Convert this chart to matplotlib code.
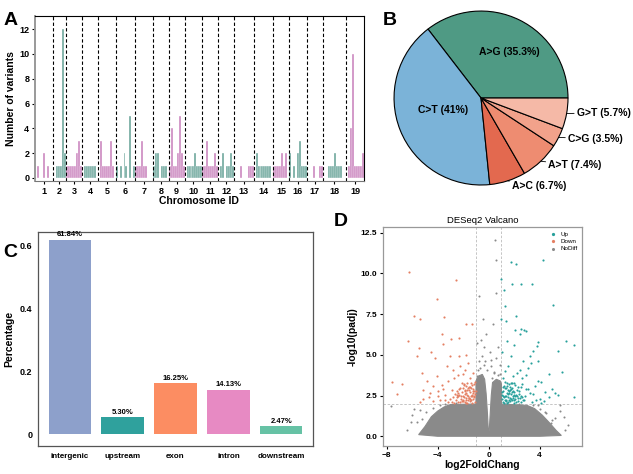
import numpy as np
import matplotlib
matplotlib.use("Agg")
import matplotlib.pyplot as plt

plt.rcParams["font.family"] = ["Liberation Sans", "DejaVu Sans"]
plt.rcParams["font.weight"] = "bold"
plt.rcParams["axes.labelweight"] = "bold"

# ── A. variants per chromosome bin ─────────────
chrom_ids = [str(i) for i in range(1, 20)]
chrom_counts = [
    [0, 1, 0, 0, 2, 0, 1, 0, 0],
    [0, 0, 1, 1, 1, 12, 2],
    [1, 1, 1, 1, 1, 2, 3, 1],
    [0, 1, 1, 1, 1, 1, 1, 0],
    [0, 3, 1, 1, 1, 1, 3, 1, 0],
    [1, 0, 1, 0, 2, 1, 0, 5, 0, 1],
    [1, 1, 1, 3, 1, 1, 0, 0, 0],
    [1, 2, 2, 0, 1, 1, 1, 0],
    [1, 4, 1, 1, 2, 5, 2, 1],
    [0, 1, 1, 1, 1, 2, 1, 1, 1],
    [1, 1, 3, 1, 1, 1, 2, 1],
    [0, 1, 2, 0, 1, 1, 2, 1],
    [0, 0, 0, 1, 0, 0, 0, 1, 1, 1],
    [0, 2, 1, 1, 1, 1, 1, 1, 1, 0],
    [1, 1, 1, 1, 2, 1, 2, 0],
    [2, 0, 1, 0, 2, 3, 1, 1, 1],
    [0, 0, 0, 1, 0, 0, 1, 1],
    [0, 0, 0, 1, 1, 1, 2, 1, 1, 1, 0, 0],
    [0, 1, 4, 10, 1, 1, 1, 1, 2],
]

# ── B. mutation types ──────────────────────────
mut_labels = ["A>G", "C>T", "A>C", "A>T", "C>G", "G>T"]
mut_pct = [35.3, 41, 6.7, 7.4, 3.5, 5.7]
mut_colors = ["#4f9a84", "#7bb3d8", "#e3694f", "#ee8c71", "#f2a28b", "#f5b9a7"]

# ── C. genomic regions ─────────────────────────
regions = ["intergenic", "upstream", "exon", "intron", "downstream"]
region_frac = [0.6184, 0.0530, 0.1625, 0.1413, 0.0247]
region_colors = ["#8da0cb", "#2fa19d", "#fc8d62", "#e78ac3", "#66c2a5"]

# ── D. volcano ─────────────────────────────────
up_x = [1.78, 2.12, 4.26, 1.0, 1.84, 2.57, 3.38, 1.18, 5.04, 1.26, 1.0, 1.39, 2.17,
        2.57, 2.75, 2.04, 2.44, 2.91, 6.09, 6.66, 1.47, 2.0, 3.87, 3.79, 5.46, 1.08,
        1.73, 3.22, 3.48, 2.7, 3.9, 3.35, 4.73, 5.77, 2.44, 2.96, 3.87, 4.13, 5.0,
        5.2, 5.47, 6.66, 4.45, 4.71, 3.61, 3.22, 2.57, 1.55, 1.3, 2.25, 3.05, 4.0,
        3.4, 2.8, 4.3, 1.9, 3.1, 3.5, 3.75, 4.1, 2.6, 1.15]
up_y = [10.7, 10.6, 10.8, 9.65, 9.37, 9.37, 9.37, 9.0, 8.06, 8.02, 7.2, 7.06, 7.4,
        6.58, 6.5, 6.5, 6.3, 6.46, 5.87, 5.58, 5.83, 5.62, 5.77, 5.56, 5.21, 5.15,
        4.9, 4.95, 5.21, 4.6, 4.64, 4.5, 3.84, 3.93, 4.09, 3.78, 3.37, 3.31, 2.9,
        2.66, 2.52, 2.39, 2.72, 2.41, 3.07, 2.66, 2.45, 4.3, 4.0, 3.9, 4.2, 2.3,
        2.1, 2.2, 2.15, 3.7, 2.9, 2.6, 2.25, 2.05, 3.55, 3.6]
up_dense_x = [1.05, 1.1, 1.15, 1.2, 1.25, 1.3, 1.35, 1.4, 1.45, 1.5, 1.55, 1.6, 1.65,
              1.7, 1.75, 1.8, 1.85, 1.9, 1.95, 2.0, 2.05, 2.1, 2.2, 2.3, 2.4, 2.5,
              2.6, 2.7, 1.08, 1.18, 1.28, 1.38, 1.48, 1.58, 1.68, 1.78, 1.88, 1.98,
              2.08, 2.18, 2.28, 2.38, 1.12, 1.32, 1.52, 1.72, 1.92, 2.12, 2.32, 2.52,
              1.22, 1.42, 1.62, 1.82, 2.02, 2.85, 2.95, 2.65, 1.03, 1.14, 1.26,
              1.37, 1.46, 1.57, 1.66, 1.77, 1.86, 1.97, 2.24, 2.45]
up_dense_y = [2.3, 2.8, 2.1, 3.1, 2.5, 2.95, 2.2, 2.65, 3.3, 2.4, 2.1, 2.75, 3.05,
              2.35, 2.9, 2.2, 3.25, 2.5, 2.05, 2.7, 3.15, 2.3, 2.85, 2.15, 2.6, 3.0,
              2.4, 2.2, 2.55, 2.05, 3.35, 2.45, 2.85, 3.2, 2.15, 2.6, 2.35, 3.3,
              2.45, 2.1, 3.0, 2.75, 3.0, 2.15, 2.6, 3.3, 2.8, 2.55, 2.35, 2.1,
              2.4, 3.1, 2.25, 2.95, 2.2, 2.5, 2.9, 3.2, 2.7, 2.45, 2.25, 2.95,
              2.05, 2.65, 2.85, 2.3, 2.7, 2.55, 2.5, 2.35]

down_x = [-6.22, -2.57, -4.09, -5.83, -5.39, -3.51, -1.79, -1.35, -6.3, -3.69, -2.96,
          -2.31, -5.44, -5.65, -4.52, -4.2, -3.6, -3.03, -2.31, -1.82, -7.61, -6.83,
          -7.22, -5.25, -4.86, -5.12, -4.6, -5.12, -5.38, -4.34, -4.09, -3.69, -3.43,
          -3.95, -3.17, -2.78, -2.91, -2.52, -2.26, -1.6, -1.2, -2.0, -3.3, -4.4,
          -3.8, -2.7, -1.5, -3.0, -3.2, -3.55, -4.0, -4.7, -2.45, -1.9, -3.45]
down_y = [10.06, 9.57, 8.43, 7.4, 7.22, 7.32, 6.91, 6.89, 5.83, 6.28, 5.97, 6.03,
          5.42, 4.9, 5.15, 4.8, 5.66, 4.95, 4.95, 5.01, 3.35, 3.23, 2.62, 3.89, 3.37,
          2.86, 2.66, 2.29, 2.11, 2.15, 3.68, 3.17, 2.56, 2.45, 3.37, 4.09, 2.86,
          2.56, 4.29, 4.5, 3.9, 3.8, 4.3, 3.1, 2.2, 3.6, 3.55, 2.3, 2.1, 2.9, 2.75,
          2.4, 3.75, 4.1, 2.2]
down_dense_x = [-1.05, -1.1, -1.15, -1.2, -1.25, -1.3, -1.35, -1.4, -1.45, -1.5, -1.55,
                -1.6, -1.65, -1.7, -1.75, -1.8, -1.85, -1.9, -1.95, -2.0, -2.05, -2.1,
                -2.2, -2.3, -2.4, -2.5, -2.6, -2.7, -1.08, -1.18, -1.28, -1.38, -1.48,
                -1.58, -1.68, -1.78, -1.88, -1.98, -2.08, -2.18, -2.28, -2.38, -1.12,
                -1.32, -1.52, -1.72, -1.92, -2.12, -2.32, -2.52, -1.22, -1.42, -1.62,
                -1.82, -2.02, -2.8, -2.9, -1.03, -1.14, -1.27, -1.36, -1.47, -1.56,
                -1.67, -1.76, -1.87, -1.96, -2.25, -2.44, -2.65]
down_dense_y = [2.1, 2.6, 3.2, 2.3, 2.9, 2.05, 2.45, 3.3, 2.7, 2.15, 3.0, 2.5, 2.2,
                2.85, 2.35, 3.1, 2.1, 2.6, 2.4, 2.95, 2.2, 2.7, 2.3, 2.55, 2.1, 2.8,
                2.25, 2.05, 3.35, 2.75, 3.15, 2.25, 3.05, 2.35, 3.25, 2.65, 2.85, 2.15,
                3.3, 2.45, 2.1, 2.65, 2.4, 2.55, 2.35, 2.05, 3.2, 2.15, 2.9, 2.4, 2.8,
                2.5, 2.95, 2.2, 2.5, 2.4, 2.1, 2.75, 2.5, 2.65, 2.95, 2.3, 2.85, 2.55,
                2.05, 2.75, 3.15, 2.95, 2.45, 2.6]

nodiff_x = [0.48, 0.61, 0.61, -0.75, -0.44, -0.2, 0.3, -0.6, 0.75, -0.9, 0.1, -0.35,
            0.55, 0.85, -0.8, -7.66, -6.0, -5.6, -5.25, -5.0, -4.8, -4.5, -6.4, -5.9,
            5.56, 5.56, 5.17, 4.91, 4.0, 4.5, 5.9, 6.2, 3.6, -3.9, -4.2, -3.3, 2.9,
            3.3, -0.5, 0.2, -0.15, 0.4, -0.95, 0.9, -0.3, 0.15, -4.9, -4.4, -3.8,
            -3.4, 3.5, 4.0, 4.4, 5.0, 3.9, -5.4, -2.6, 2.4, -6.1, 6.0, -0.65, -0.4,
            0.45, 0.7, -0.85, 0.25]
nodiff_y = [12.07, 10.8, 8.8, 8.63, 7.2, 6.3, 6.9, 5.9, 5.5, 5.7, 5.2, 5.5, 4.8, 4.4,
            4.6, 1.84, 1.3, 0.9, 1.06, 0.51, 0.8, 0.3, 0.4, 1.7, 1.94, 1.53, 1.12,
            0.82, 0.41, 1.4, 1.2, 0.7, 0.2, 1.55, 1.2, 1.85, 1.8, 1.55, 4.9, 4.3, 4.1,
            3.9, 3.7, 3.85, 4.6, 4.7, 1.5, 1.75, 1.9, 2.0, 1.95, 1.7, 1.5, 1.0, 1.9,
            1.6, 2.05, 2.0, 0.9, 0.4, 4.2, 4.4, 3.95, 3.75, 4.05, 3.6]
# outline of the dense NoDiff cloud
cloud_x = [-5.5, -5.0, -4.5, -4.0, -3.5, -3.0, -1.0, -1.0, -0.8, -0.5, -0.32, -0.2,
           -0.1, -0.03, 0.04, 0.12, 0.2, 0.3, 0.6, 0.9, 1.0, 1.0, 3.0, 3.6, 4.2,
           4.8, 5.3, 5.7, 4.0, -4.0]
cloud_y = [0.1, 0.6, 1.2, 1.55, 1.8, 1.95, 1.98, 3.4, 3.7, 3.8, 3.5, 2.6, 1.4, 0.35,
           0.35, 1.4, 2.5, 3.3, 3.5, 3.4, 3.2, 1.98, 1.9, 1.7, 1.3, 0.8, 0.35, 0.05,
           0.0, 0.0]

fig = plt.figure(figsize=(6.33, 4.74), dpi=100)

# ── Panel A ────────────────────────────────────
axA = fig.add_axes([0.055, 0.618, 0.520, 0.348])
start = 0
centers, bounds = [], []
for i, counts in enumerate(chrom_counts):
    col = "#cc88c0" if i % 2 == 0 else "#6fa79d"
    xs = [start + j + 0.5 for j, c in enumerate(counts) if c > 0]
    hs = [c for c in counts if c > 0]
    axA.bar(xs, hs, width=1.0, color=col, edgecolor="white", linewidth=0.25)
    centers.append(start + len(counts) / 2)
    start += len(counts)
    bounds.append(start)
for b in bounds[:-1]:
    axA.axvline(b, color="black", lw=0.8, ls=(0, (3, 2)))
axA.set_xlim(0, start)
axA.set_ylim(-0.25, 13.05)
axA.set_xticks(centers)
axA.set_xticklabels(chrom_ids, fontsize=6.5)
axA.set_yticks(range(0, 13, 2))
axA.tick_params(axis="y", labelsize=6.5, length=2.5, pad=1.5)
axA.tick_params(axis="x", length=2.5, pad=1.5)
axA.set_xlabel("Chromosome ID", fontsize=7.5, labelpad=0)
axA.set_ylabel("Number of variants", fontsize=7.5, labelpad=2)
axA.spines["left"].set_color("#999999")
axA.spines["left"].set_linewidth(1.4)
axA.spines["bottom"].set_color("#777777")

# ── Panel B ────────────────────────────────────
axB = fig.add_axes([0.6224, 0.6097, 0.275, 0.367])
wedges, _ = axB.pie(mut_pct, colors=mut_colors, startangle=0, counterclock=True,
                    wedgeprops=dict(edgecolor="black", linewidth=0.8))
axB.set_aspect("equal")
axB.set_xlim(-1, 1)
axB.set_ylim(-1, 1)
for k, w in enumerate(wedges):
    ang = np.deg2rad((w.theta1 + w.theta2) / 2)
    txt = f"{mut_labels[k]} ({mut_pct[k]:g}%)"
    if k < 2:
        r = 0.62 if k == 0 else 0.47
        axB.text(r * np.cos(ang) + (0.05 if k == 0 else 0),
                 r * np.sin(ang) - (0.03 if k == 0 else -0.04), txt,
                 ha="center", va="center", fontsize=7.5)
    else:
        axB.annotate(txt, xy=(np.cos(ang), np.sin(ang)),
                     xytext=(1.1 * np.cos(ang) + 0.02, 1.1 * np.sin(ang) + 0.03),
                     ha="left", va="center", fontsize=7.5, annotation_clip=False,
                     arrowprops=dict(arrowstyle="-", lw=0.6, color="black",
                                     shrinkA=0, shrinkB=0))

# ── Panel C ────────────────────────────────────
axC = fig.add_axes([0.060, 0.059, 0.4345, 0.4515])
xc = np.arange(len(regions))
axC.bar(xc, region_frac, width=0.8, color=region_colors)
for x, v in zip(xc, region_frac):
    axC.text(x, v + 0.004, f"{v * 100:.2f}%", ha="center", va="bottom", fontsize=5.5)
axC.set_xlim(-0.6, 4.6)
axC.set_ylim(-0.038, 0.643)
axC.set_xticks(xc)
axC.set_xticklabels(regions, fontsize=5.8)
axC.set_yticks([0, 0.2, 0.4, 0.6])
axC.set_yticklabels(["0", "0.2", "0.4", "0.6"])
axC.tick_params(axis="y", labelsize=6.5, length=0, pad=4)
axC.tick_params(axis="x", length=0, pad=5)
axC.set_ylabel("Percentage", fontsize=7.5, labelpad=4)
for s in axC.spines.values():
    s.set_color("#555555")
    s.set_linewidth(0.9)

# ── Panel D ────────────────────────────────────
axD = fig.add_axes([0.605, 0.059, 0.314, 0.462])
axD.fill(cloud_x, cloud_y, color="#8a8a8a", lw=0.8, zorder=1)
axD.scatter(nodiff_x, nodiff_y, s=2.2, color="#8a8a8a", lw=0, zorder=2, label="NoDiff")
axD.scatter(up_x + up_dense_x, up_y + up_dense_y, s=2.4, color="#27a09b", lw=0,
            zorder=2, label="Up")
axD.scatter(down_x + down_dense_x, down_y + down_dense_y, s=2.4, color="#e47f62",
            lw=0, zorder=2, label="Down")
for xv in (-1, 1):
    axD.axvline(xv, color="#bbbbbb", lw=0.6, ls=(0, (3, 2)), zorder=0)
axD.axhline(2, color="#bbbbbb", lw=0.6, ls=(0, (3, 2)), zorder=0)
axD.set_xlim(-8.3, 7.3)
axD.set_ylim(-0.6, 12.85)
axD.set_xticks([-8, -4, 0, 4])
axD.set_yticks([0, 2.5, 5, 7.5, 10, 12.5])
axD.set_yticklabels(["0.0", "2.5", "5.0", "7.5", "10.0", "12.5"])
axD.tick_params(labelsize=6, length=2.5, pad=1.5)
axD.set_xlabel("log2FoldChang", fontsize=7.5, labelpad=1)
axD.set_ylabel("-log10(padj)", fontsize=7.5, labelpad=2)
axD.set_title("DESeq2 Valcano", fontsize=6.8, pad=3)
for s in axD.spines.values():
    s.set_color("#999999")
    s.set_linewidth(0.9)
h, l = axD.get_legend_handles_labels()
order = [l.index("Up"), l.index("Down"), l.index("NoDiff")]
axD.legend([h[i] for i in order], [l[i] for i in order], loc="upper right",
           frameon=False, markerscale=1.5, handletextpad=0.1,
           borderaxespad=0.3, labelspacing=0.3, prop={"weight": "normal", "size": 4.5})

# panel letters
for lab, (x, y) in {"A": (0.005, 0.975), "B": (0.605, 0.975),
                    "C": (0.005, 0.485), "D": (0.527, 0.55)}.items():
    fig.text(x, y, lab, fontsize=14, fontweight="bold", ha="left", va="top")

fig.savefig("out.png", dpi=100)
